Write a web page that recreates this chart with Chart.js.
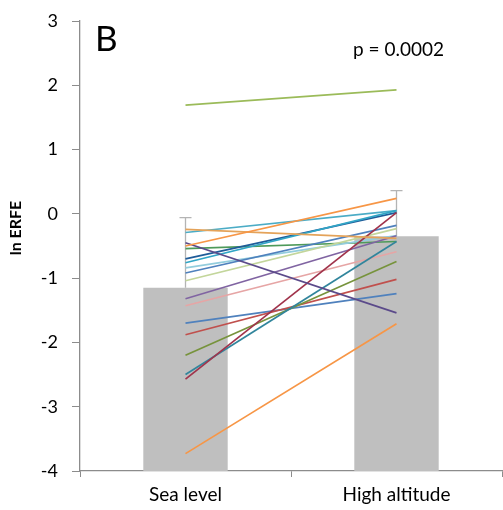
<!DOCTYPE html>
<html>
<head>
<meta charset="utf-8">
<script src="https://cdn.jsdelivr.net/npm/chart.js@4"></script>
<style>
  html, body { margin: 0; padding: 0; background: #fff; }
  #wrap { width: 503px; height: 510px; }
</style>
</head>
<body>
<div id="wrap"><canvas id="chart" width="503" height="510"></canvas></div>
<script>
// categories and group means (ln ERFE)
const categories = ["Sea level", "High altitude"];
const barMeans = [-1.15, -0.35];
const errUp = [1.09, 0.71];
const axisMin = -4;
const yTicks = [-4, -3, -2, -1, 0, 1, 2, 3];

// individual subjects: value at sea level, value at high altitude
const seaLevel = [1.69, -3.73, -0.50, -0.24, -0.45, -2.57, -2.50, -2.20, -1.88, -1.70,
                  -1.43, -1.32, -1.04, -0.92, -0.84, -0.76, -0.70, -0.54, -0.29];
const highAltitude = [1.93, -1.71, 0.24, -0.38, -1.54, 0.02, -0.43, -0.74, -1.02, -1.24,
                      -0.59, -0.34, -0.23, -0.18, -0.34, 0.05, 0.02, -0.43, 0.05];
const lineColors = ["#9BBB59", "#F79646", "#F79646", "#E4A35A", "#5B4A8A", "#A0334B", "#31859C", "#77933C", "#C0504D", "#4F81BD",
                    "#E6A5A5", "#8064A2", "#C3D69B", "#4F81BD", "#93CDDD", "#31A5C6", "#1F5C99", "#4E9A5A", "#4BACC6"];

const font = "Lato, 'Open Sans', sans-serif";
const gray = "#8C8C8C";

let datasets = [{
  type: "bar",
  data: barMeans.map(v => [axisMin, v]),
  backgroundColor: "#BFBFBF",
  categoryPercentage: 1,
  barPercentage: 0.4,
  order: 2
}];
seaLevel.forEach((v, i) => {
  datasets.push({
    type: "line",
    data: [v, highAltitude[i]],
    borderColor: lineColors[i],
    borderWidth: 1.7,
    pointRadius: 0,
    order: 1
  });
});

// error bars above the bars
const errorBars = {
  id: "errorBars",
  afterDatasetDraw(chart, args) {
    if (args.index !== 0) return;
    const ctx = chart.ctx, y = chart.scales.y;
    const meta = chart.getDatasetMeta(0);
    ctx.save();
    ctx.strokeStyle = "#B4B4B4";
    ctx.lineWidth = 1.3;
    meta.data.forEach((bar, i) => {
      const yTop = y.getPixelForValue(barMeans[i] + errUp[i]);
      const yBase = y.getPixelForValue(barMeans[i]);
      ctx.beginPath();
      ctx.moveTo(bar.x, yBase);
      ctx.lineTo(bar.x, yTop);
      ctx.moveTo(bar.x - 6, yTop);
      ctx.lineTo(bar.x + 6, yTop);
      ctx.stroke();
    });
    ctx.restore();
  }
};

// panel letter, p value and rotated axis title
const labels = {
  id: "labels",
  afterDraw(chart) {
    const ctx = chart.ctx;
    ctx.save();
    ctx.fillStyle = "#000";
    ctx.textBaseline = "middle";
    ctx.font = "35px " + font;
    ctx.fillText("B", 95, 40);
    ctx.font = "19px " + font;
    ctx.fillText("p = 0.0002", 353, 50);
    ctx.translate(16, 228);
    ctx.rotate(-Math.PI / 2);
    ctx.textAlign = "center";
    ctx.font = "bold 16px " + font;
    ctx.fillText("ln ERFE", 0, 0);
    ctx.restore();
  }
};

new Chart(document.getElementById("chart"), {
  data: { labels: categories, datasets: datasets },
  options: {
    responsive: false,
    animation: false,
    layout: { padding: { top: 21, right: 1, left: 0, bottom: 0 } },
    plugins: { legend: { display: false }, tooltip: { enabled: false } },
    scales: {
      x: {
        offset: true,
        grid: { offset: true, drawOnChartArea: false, tickLength: 6, color: gray },
        border: { color: gray, width: 1.3 },
        ticks: { color: "#000", font: { family: font, size: 19 }, padding: 6 },
        afterFit(scale) { scale.height = 39; scale.paddingLeft = 0; scale.paddingRight = 0; }
      },
      y: {
        min: -4,
        max: 3,
        afterBuildTicks(scale) { scale.ticks = yTicks.map(v => ({ value: v })); },
        grid: { drawOnChartArea: false, tickLength: 8, color: gray },
        border: { color: gray, width: 1.3 },
        ticks: { color: "#000", font: { family: font, size: 18 }, padding: 14 },
        afterFit(scale) { scale.width = 80; scale.paddingTop = 0; scale.paddingBottom = 0; }
      }
    }
  },
  plugins: [errorBars, labels]
});
</script>
</body>
</html>
